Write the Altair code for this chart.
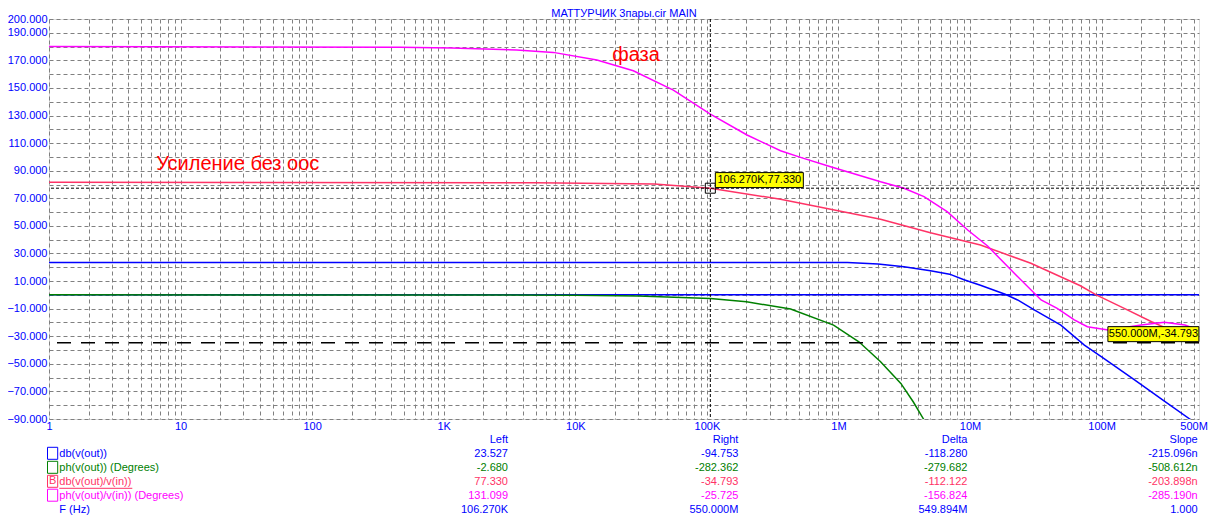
import altair as alt
import pandas as pd

# ---------------- data ----------------
BLUE_F = [1, 1e4, 1e5, 5e5, 1.17e6, 2.0e6, 3.15e6, 5e6, 7e6, 9e6, 12e6, 18.5e6, 23e6, 31e6,
          49e6, 74e6, 100e6, 178e6, 300e6, 468e6, 550e6]
BLUE_V = [23.53, 23.53, 23.53, 23.5, 23.4, 22.4, 20.4, 17.5, 15.0, 11.0, 7.0, 0.4, -3.7, -11.0,
          -22.0, -36.4, -45.0, -61.7, -77.0, -90.0, -94.75]

GREEN_F = [1, 1e3, 1e4, 3e4, 1.0627e5, 2e5, 4.33e5, 9.18e5, 1.43e6, 2.09e6, 2.98e6, 3.7e6,
           4.43e6, 5e6, 550e6]
GREEN_V = [0.0, -0.05, -0.3, -0.8, -2.68, -5.0, -10.3, -21.9, -34.0, -48.5, -64.2, -77.5,
           -90.0, -100.0, -282.36]

RED_F = [1, 5e3, 4e4, 1.0627e5, 3.63e5, 7.33e5, 8.72e5, 2.09e6, 5e6, 12e6, 29e6, 69e6, 91e6,
         150e6, 240e6, 400e6, 550e6]
RED_V = [81.6, 81.3, 80.3, 77.33, 69.3, 63.5, 62.0, 54.8, 45.0, 36.1, 22.9, 6.6, 0.0,
         -10.0, -19.5, -28.8, -34.793]

MAG_F = [1, 463, 1.15e3, 3.58e3, 6.8e3, 14.6e3, 27.6e3, 55.6e3, 1.0627e5, 2.02e5, 3.63e5,
         5.15e5, 8.72e5, 2.09e6, 3.15e6, 4.47e6, 6.7e6, 9.6e6, 13.6e6, 21.7e6, 34.7e6, 46e6,
         62e6, 78e6, 112e6, 200e6, 300e6, 430e6, 550e6]
MAG_V = [180.0, 179.6, 179.0, 177.5, 175.8, 170.3, 162.5, 148.5, 131.1, 115.9, 104.5,
         99.7, 92.9, 82.0, 77.3, 71.2, 60.3, 47.0, 35.4, 15.6, -3.7, -9.8,
         -18.2, -23.1, -25.5, -21.9, -19.9, -21.9, -25.7]

ZERO_LINE = [0.0]

CURSOR_F = [106270, 550e6]
CURSOR_V = [77.33, -34.793]
CURSOR_TEXT = ["106.270K,77.330", "550.000M,-34.793"]

NOTE_TEXT = ["фаза", "Усиление без оос"]
NOTE_F = [19.1e3, 6.53]
NOTE_V = [169.8, 90.5]

TITLE = ["МАТТУРЧИК 3пары.cir MAIN"]

TRACE_NAMES = ["db(v(out))", "ph(v(out)) (Degrees)", "db(v(out)/v(in))", "ph(v(out)/v(in)) (Degrees)"]
HEADERS = ["Left", "Right", "Delta", "Slope"]
LEFT_VALS = ["23.527", "-2.680", "77.330", "131.099"]
RIGHT_VALS = ["-94.753", "-282.362", "-34.793", "-25.725"]
DELTA_VALS = ["-118.280", "-279.682", "-112.122", "-156.824"]
SLOPE_VALS = ["-215.096n", "-508.612n", "-203.898n", "-285.190n"]
F_ROW = ["F (Hz)", "106.270K", "550.000M", "549.894M", "1.000"]

X_LABELS = {1: "1", 10: "10", 100: "100", 1000: "1K", 10000: "10K", 100000: "100K",
            1000000: "1M", 10000000: "10M", 100000000: "100M", 500000000: "500M"}

# ---------------- styles ----------------
FONT = "Liberation Sans"
BLUE, GREEN, RED, MAG = "#0000FF", "#008000", "#FF3366", "#FF00FF"
SERIES = ["db(v(out))", "ph(v(out))", "db(v(out)/v(in))", "ph(v(out)/v(in))"]
SERIES_COLORS = [BLUE, GREEN, RED, MAG]

XMAX = 5.5e8
xscale = alt.Scale(type="log", domain=[1, XMAX], nice=False)
yscale = alt.Scale(domain=[-90, 200], nice=False, zero=False)

x_ticks = [m * 10 ** d for d in range(0, 9) for m in range(1, 10) if m * 10 ** d <= XMAX]
y_ticks = list(range(-90, 201, 10))

label_expr = ""
for k, v in X_LABELS.items():
    label_expr += f"datum.value == {k} ? '{v}' : "
label_expr += "''"

x_axis = alt.Axis(values=x_ticks, labelExpr=label_expr, grid=True, gridDash=[4, 3],
                  gridColor="#808080", gridWidth=1, ticks=False, domain=False,
                  labelColor=BLUE, labelFont=FONT, labelFontSize=11, labelPadding=1,
                  labelFlush=False, labelOverlap=False, title=None)
y_axis = alt.Axis(values=y_ticks,
                  labelExpr="(datum.value == 200 || abs(datum.value) % 20 == 10) ? format(datum.value, '.3f') : ''",
                  grid=True, gridDash=[4, 3], gridColor="#808080", gridWidth=1, ticks=False,
                  domain=False, labelColor=BLUE, labelFont=FONT, labelFontSize=11,
                  labelPadding=2, labelOverlap=False, labelFlush=False, title=None)


def X(field="freq"):
    return alt.X(f"{field}:Q", scale=xscale, axis=x_axis)


def Y(field="val"):
    return alt.Y(f"{field}:Q", scale=yscale, axis=y_axis)


# ---------------- curves ----------------
rows = []
for name, fs, vs in zip(SERIES, [BLUE_F, GREEN_F, RED_F, MAG_F], [BLUE_V, GREEN_V, RED_V, MAG_V]):
    for f, v in zip(fs, vs):
        rows.append({"series": name, "freq": f, "val": v})
curves = pd.DataFrame(rows)

base_axes = alt.Chart(curves).mark_point(opacity=0, size=0).encode(x=X(), y=Y())

zero_df = pd.DataFrame({"val": ZERO_LINE})
zero_rule = alt.Chart(zero_df).mark_rule(color=BLUE, strokeWidth=1.5).encode(y=Y())

lines = alt.Chart(curves).mark_line(strokeWidth=1.5, clip=True).encode(
    x=X(), y=Y(),
    color=alt.Color("series:N", scale=alt.Scale(domain=SERIES, range=SERIES_COLORS), legend=None),
    detail="series:N",
)

cur = pd.DataFrame({"freq": CURSOR_F, "val": CURSOR_V, "txt": CURSOR_TEXT})
c1 = cur.iloc[[0]]
c2 = cur.iloc[[1]]

c1_v = alt.Chart(c1).mark_rule(color="black", strokeDash=[3, 2], strokeWidth=1).encode(x=X())
c1_h = alt.Chart(c1).mark_rule(color="black", strokeDash=[3, 2], strokeWidth=1).encode(y=Y())
c2_h = alt.Chart(c2).mark_rule(color="black", strokeDash=[14, 10], strokeWidth=1.5).encode(y=Y())
c1_sq = alt.Chart(c1).mark_point(shape="square", size=100, filled=False, color="black",
                                 strokeWidth=1, opacity=1).encode(x=X(), y=Y())


def label_box(df, dx, dy, w):
    box = alt.Chart(df).mark_rect(width=w, height=15, align="center", baseline="middle",
                                  xOffset=dx, yOffset=dy, fill="#FFFF00", stroke="black",
                                  strokeWidth=1).encode(x=X(), y=Y())
    txt = alt.Chart(df).mark_text(dx=dx, dy=dy, align="center", baseline="middle", font=FONT,
                                  fontSize=11, color="black").encode(x=X(), y=Y(), text="txt:N")
    return [box, txt]


box1 = label_box(c1, 49, -8.1, 88)
box2 = label_box(c2, -45.6, -8.7, 91)

notes = pd.DataFrame({"freq": NOTE_F, "val": NOTE_V, "txt": NOTE_TEXT})
note_layer = alt.Chart(notes).mark_text(align="left", baseline="alphabetic", font=FONT,
                                        fontSize=20, color="#FF0000").encode(
    x=X(), y=Y(), text="txt:N")

# ---------------- title + readout table (layout in pixels) ----------------
NAME_X = 10.3
COL_RIGHT = [459.0, 689.4, 918.4, 1148.7]
ROW_Y = [421.3, 435.3, 449.3, 463.3, 477.2, 491.3]
ROW_COLORS = [BLUE, GREEN, RED, MAG]

trows = [{"px": 575.0, "py": -2.4, "txt": TITLE[0], "clr": BLUE, "al": "title"}]
for j, h in enumerate(HEADERS):
    trows.append({"px": COL_RIGHT[j], "py": ROW_Y[0], "txt": h, "clr": BLUE, "al": "right"})
for i, name in enumerate(TRACE_NAMES):
    trows.append({"px": NAME_X, "py": ROW_Y[i + 1], "txt": name, "clr": ROW_COLORS[i], "al": "left"})
    for j, col in enumerate([LEFT_VALS, RIGHT_VALS, DELTA_VALS, SLOPE_VALS]):
        trows.append({"px": COL_RIGHT[j], "py": ROW_Y[i + 1], "txt": col[i], "clr": ROW_COLORS[i], "al": "right"})
trows.append({"px": NAME_X, "py": ROW_Y[5], "txt": F_ROW[0], "clr": BLUE, "al": "left"})
for j in range(4):
    trows.append({"px": COL_RIGHT[j], "py": ROW_Y[5], "txt": F_ROW[j + 1], "clr": BLUE, "al": "right"})
tdf = pd.DataFrame(trows)


def px_text(df, align, baseline):
    return alt.Chart(df).mark_text(align=align, baseline=baseline, font=FONT, fontSize=11).encode(
        x=alt.X("px:Q", scale=None), y=alt.Y("py:Q", scale=None),
        text="txt:N", color=alt.Color("clr:N", scale=None))


t_right = px_text(tdf[tdf.al == "right"], "right", "middle")
t_left = px_text(tdf[tdf.al == "left"], "left", "middle")
t_title = px_text(tdf[tdf.al == "title"], "center", "alphabetic")

bdf = pd.DataFrame({"x1": [-1.5] * 4, "x2": [8.7] * 4,
                    "y1": [ROW_Y[i + 1] - 7 for i in range(4)],
                    "y2": [ROW_Y[i + 1] + 5 for i in range(4)],
                    "clr": ROW_COLORS})
t_boxes = alt.Chart(bdf).mark_rect(fillOpacity=0, strokeWidth=1).encode(
    x=alt.X("x1:Q", scale=None), x2="x2:Q",
    y=alt.Y("y1:Q", scale=None), y2="y2:Q",
    stroke=alt.Color("clr:N", scale=None))
b_df = pd.DataFrame({"px": [3.6], "py": [ROW_Y[3] - 1], "txt": ["B"]})
t_b = alt.Chart(b_df).mark_text(align="center", baseline="middle", font=FONT, fontSize=11, color=RED).encode(
    x=alt.X("px:Q", scale=None), y=alt.Y("py:Q", scale=None), text="txt:N")
ul_df = pd.DataFrame({"x1": [NAME_X], "x2": [NAME_X + 73], "py": [ROW_Y[3] + 6]})
t_ul = alt.Chart(ul_df).mark_rule(color=RED, strokeWidth=1).encode(
    x=alt.X("x1:Q", scale=None), x2="x2:Q", y=alt.Y("py:Q", scale=None))

chart = alt.layer(
    base_axes, zero_rule, lines, c1_v, c1_h, c2_h, c1_sq, *box1, *box2, note_layer,
    t_right, t_left, t_title, t_boxes, t_b, t_ul,
).properties(
    width=1150, height=400,
    padding={"left": 41, "top": 11, "right": 20, "bottom": 100},
    autosize=alt.AutoSizeParams(type="none"),
).configure_view(stroke="#808080", strokeWidth=1).configure(background="white")

chart.save("out.html", embed_options={"renderer": "svg", "actions": False})
